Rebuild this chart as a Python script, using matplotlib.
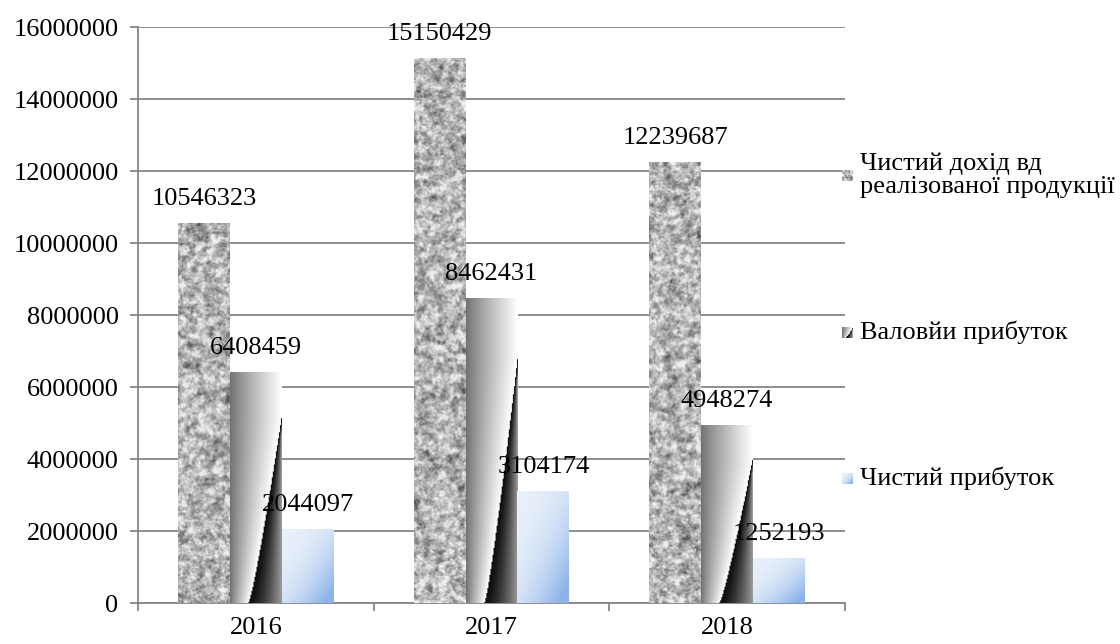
import numpy as np
import matplotlib
matplotlib.use('Agg')
import matplotlib.pyplot as plt

years = ['2016', '2017', '2018']
series_names = ['Чистий дохід вд\nреалізованої продукції', 'Валовйи прибуток', 'Чистий прибуток']
net_income = [10546323, 15150429, 12239687]
gross_profit = [6408459, 8462431, 4948274]
net_profit = [2044097, 3104174, 1252193]

plt.rcParams['font.family'] = ['Liberation Serif', 'DejaVu Serif']

W, H, DPI = 1120, 644, 100
rng = np.random.default_rng(7)


def blur(a, s):
    ky = np.fft.fftfreq(a.shape[0])[:, None]
    kx = np.fft.fftfreq(a.shape[1])[None, :]
    g = np.exp(-2 * (np.pi * s) ** 2 * (kx ** 2 + ky ** 2))
    return np.real(np.fft.ifft2(np.fft.fft2(a) * g))


def granite(h, w):
    a = blur(rng.standard_normal((h, w)), 2.0) + 0.3 * blur(rng.standard_normal((h, w)), 0.7)
    a = (a - a.mean()) / a.std()
    v = np.clip(0.71 + 0.12 * a, 0.33, 0.94)
    return np.dstack([v, v, v])


def fold(h, w):
    v = np.linspace(1, 0, h)[:, None] * np.ones((1, w))
    u = np.linspace(0, 1, w)[None, :] * np.ones((h, 1))
    xl = 0.36 + 0.64 * (v / 0.8) ** 0.85
    left = 0.45 + 0.55 * (u / np.minimum(xl, 1.0)) ** 0.9
    d = (u - xl) / np.maximum(1 - xl, 0.05)
    right = 0.05 + 0.55 * np.clip(d, 0, 1) ** 1.4
    b = np.where(u < xl, left, right)
    b = np.clip(b, 0, 1)
    return np.dstack([b, b, b])


def pale_blue(h, w):
    v = np.linspace(1, 0, h)[:, None] * np.ones((1, w))
    u = np.linspace(0, 1, w)[None, :] * np.ones((h, 1))
    t = np.clip(0.55 * u + 0.55 * (1 - v), 0, 1) ** 2.4
    c0 = np.array([0.91, 0.94, 0.98])
    c1 = np.array([0.55, 0.70, 0.91])
    return c0 + t[..., None] * (c1 - c0)


fig = plt.figure(figsize=(W / DPI, H / DPI), dpi=DPI)
ax = fig.add_axes([138 / W, 1 - 603 / H, 707 / W, 576 / H])
ax.set_xlim(-0.5, 2.5)
ax.set_ylim(0, 16000000)

x = np.arange(len(years))
bw = 0.22
textures = [granite, fold, pale_blue]
data = [net_income, gross_profit, net_profit]
px_per_val = 576 / 16000000
px_per_x = 707 / 3

for i, (vals, tex) in enumerate(zip(data, textures)):
    bars = ax.bar(x + (i - 1) * bw, vals, bw, color='none', edgecolor='none', zorder=3)
    for b, val in zip(bars, vals):
        x0 = b.get_x()
        hpx = max(int(val * px_per_val), 2)
        wpx = max(int(bw * px_per_x), 2)
        im = ax.imshow(tex(hpx, wpx), extent=(x0, x0 + bw, 0, val), aspect='auto',
                       interpolation='bilinear', zorder=3)
        im.set_clip_path(b)
        ax.annotate(f'{val}', (x0 + bw / 2, val), xytext=(0, 13), textcoords='offset points',
                    ha='center', va='baseline', fontsize=19, color='black', zorder=5)

ax.set_yticks(np.arange(0, 16000001, 2000000))
ax.set_yticklabels([str(v) for v in range(0, 16000001, 2000000)], fontsize=19)
ax.yaxis.grid(True, color='#868686', linewidth=1.3)
ax.set_axisbelow(True)

ax.set_xticks(x)
ax.set_xticklabels(years, fontsize=19)
ax.set_xticks([-0.5, 0.5, 1.5, 2.5], minor=True)
ax.tick_params(axis='x', which='major', length=0, pad=10)
ax.tick_params(axis='x', which='minor', length=6, color='#868686', width=1.3)
ax.tick_params(axis='y', length=6, color='#868686', width=1.3, pad=8)

for s in ['top', 'right']:
    ax.spines[s].set_visible(False)
for s in ['left', 'bottom']:
    ax.spines[s].set_color('#868686')
    ax.spines[s].set_linewidth(1.3)

# legend
leg_y = [175, 332, 478]
for name, tex, ly in zip(series_names, textures, leg_y):
    mk = fig.add_axes([842 / W, 1 - (ly + 6) / H, 11 / W, 11 / H])
    mk.imshow(tex(11, 11), aspect='auto', interpolation='bilinear')
    mk.axis('off')
    fig.text(860 / W, 1 - ly / H, name, fontsize=19, va='center', ha='left',
             linespacing=1.05)

fig.savefig('out.png', dpi=DPI)
